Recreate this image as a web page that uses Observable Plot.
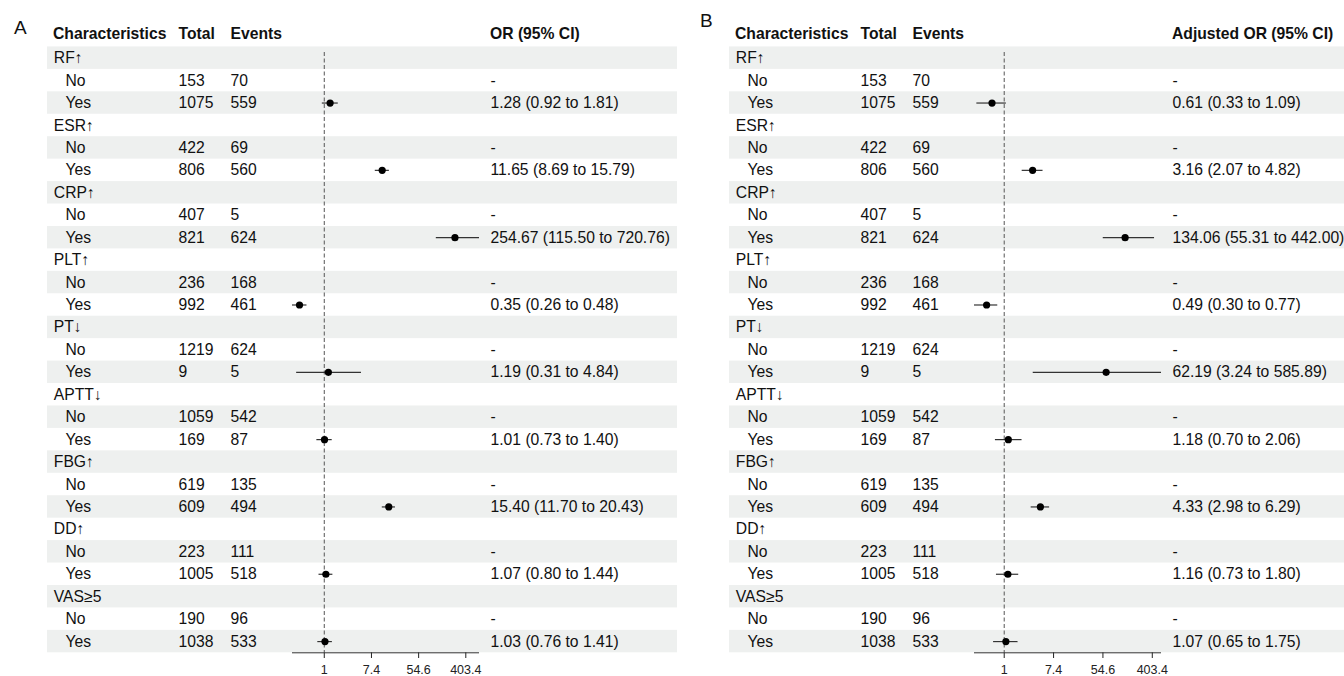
<!DOCTYPE html>
<html><head><meta charset="utf-8">
<script src="https://cdn.jsdelivr.net/npm/d3@7"></script>
<script src="https://cdn.jsdelivr.net/npm/@observablehq/plot@0.6"></script>
<style>
body{margin:0;background:#fff;overflow:hidden;font-family:"Liberation Sans",Arial,sans-serif;}
#wrap{position:relative;width:1344px;height:676px;overflow:hidden;}
.panel{position:absolute;top:0;width:682px;height:676px;}
.panel svg{max-width:none !important;}
.tag{position:absolute;font-size:19px;line-height:19px;color:#111;font-family:"Liberation Sans",Arial,sans-serif;}
</style></head><body>
<div id="wrap">
  <div class="tag" style="left:14px;top:18px">A</div>
  <div class="tag" style="left:700px;top:11px">B</div>
  <div id="pa" class="panel" style="left:0"></div>
  <div id="pb" class="panel" style="left:682px"></div>
</div>
<script>
// ---- data ----
const groups    = ["RF↑", "ESR↑", "CRP↑", "PLT↑", "PT↓", "APTT↓", "FBG↑", "DD↑", "VAS≥5"];
const totalNo   = [153, 422, 407, 236, 1219, 1059, 619, 223, 190];
const eventsNo  = [70, 69, 5, 168, 624, 542, 135, 111, 96];
const totalYes  = [1075, 806, 821, 992, 9, 169, 609, 1005, 1038];
const eventsYes = [559, 560, 624, 461, 5, 87, 494, 518, 533];

const orA   = [1.28, 11.65, 254.67, 0.35, 1.19, 1.01, 15.40, 1.07, 1.03];
const loA   = [0.92, 8.69, 115.50, 0.26, 0.31, 0.73, 11.70, 0.80, 0.76];
const hiA   = [1.81, 15.79, 720.76, 0.48, 4.84, 1.40, 20.43, 1.44, 1.41];

const orB   = [0.61, 3.16, 134.06, 0.49, 62.19, 1.18, 4.33, 1.16, 1.07];
const loB   = [0.33, 2.07, 55.31, 0.30, 3.24, 0.70, 2.98, 0.73, 0.65];
const hiB   = [1.09, 4.82, 442.00, 0.77, 585.89, 2.06, 6.29, 1.80, 1.75];

const tickValues = [1, 7.389, 54.598, 403.429];
const tickLabels = ["1", "7.4", "54.6", "403.4"];

const headersA = ["Characteristics", "Total", "Events", "OR (95% CI)"];
const headersB = ["Characteristics", "Total", "Events", "Adjusted OR (95% CI)"];

// ---- chart ----
const FS = 15.7;
const TXT = "#111";
function tickLabel(d) {
  let best = 0;
  tickValues.forEach((v, j) => { if (Math.abs(Math.log(v) - Math.log(d)) < Math.abs(Math.log(tickValues[best]) - Math.log(d))) best = j; });
  return tickLabels[best];
}
function buildRows(est, lo, hi) {
  const rows = [];
  groups.forEach((g, k) => {
    rows.push({i: 3*k, kind: "group", label: g});
    rows.push({i: 3*k+1, kind: "sub", label: "No", total: String(totalNo[k]), events: String(eventsNo[k]), ci: "-"});
    rows.push({i: 3*k+2, kind: "sub", label: "Yes", total: String(totalYes[k]), events: String(eventsYes[k]),
      ci: `${est[k].toFixed(2)} (${lo[k].toFixed(2)} to ${hi[k].toFixed(2)})`,
      est: est[k], lo: lo[k], hi: hi[k]});
  });
  return rows;
}
function panel(est, lo, hi, headers) {
  const rows = buildRows(est, lo, hi);
  const n = rows.length;
  const yes = rows.filter(d => d.est != null);
  const xmin = d3.min(lo), xmax = d3.max(hi);
  const head = [{i: -1}];
  const txt = (opts) => ({y: "i", frameAnchor: "left", textAnchor: "start", fontSize: FS, fill: TXT, ...opts});
  return Plot.plot({
    width: 682, height: 676,
    marginLeft: 47, marginRight: 5, marginTop: 52, marginBottom: 24,
    style: {fontFamily: "'Liberation Sans', Arial, sans-serif", fontSize: "12.5px", color: "#222", background: "transparent", maxWidth: "none"},
    x: {type: "log", base: Math.E, domain: [xmin, xmax], range: [292, 479], ticks: tickValues,
        tickFormat: tickLabel, tickSize: 6, tickPadding: 7, label: null},
    y: {domain: [-1.5, n - 0.5], range: [24, 652.3], axis: null},
    marks: [
      Plot.rect(rows.filter(d => d.i % 2 === 0), {y1: d => d.i - 0.5, y2: d => d.i + 0.5, fill: "#eef0ef"}),
      Plot.ruleX([1], {stroke: "#555", strokeWidth: 1, strokeDasharray: "4,2.5"}),
      Plot.ruleY([{y: n - 0.5, a: xmin, b: xmax}], {y: "y", x1: "a", x2: "b", stroke: "#333", strokeWidth: 1}),
      Plot.ruleY(yes, {y: "i", x1: "lo", x2: "hi", stroke: "#333", strokeWidth: 1.2}),
      Plot.dot(yes, {y: "i", x: "est", r: 3.6, fill: "#000", stroke: "none"}),
      // header
      Plot.text(head, txt({text: () => headers[0], dx: 5.5, fontWeight: "bold", dy: -2})),
      Plot.text(head, txt({text: () => headers[1], dx: 131, fontWeight: "bold", dy: -2})),
      Plot.text(head, txt({text: () => headers[2], dx: 183, fontWeight: "bold", dy: -2})),
      Plot.text(head, txt({text: () => headers[3], dx: 442.5, fontWeight: "bold", dy: -2})),
      // rows
      Plot.text(rows.filter(d => d.kind === "group"), txt({text: "label", dx: 6.3})),
      Plot.text(rows.filter(d => d.kind === "sub"), txt({text: "label", dx: 18})),
      Plot.text(rows.filter(d => d.kind === "sub"), txt({text: "total", dx: 131})),
      Plot.text(rows.filter(d => d.kind === "sub"), txt({text: "events", dx: 183})),
      Plot.text(rows.filter(d => d.kind === "sub"), txt({text: "ci", dx: 443}))
    ]
  });
}
document.getElementById("pa").appendChild(panel(orA, loA, hiA, headersA));
document.getElementById("pb").appendChild(panel(orB, loB, hiB, headersB));
</script>
</body></html>
